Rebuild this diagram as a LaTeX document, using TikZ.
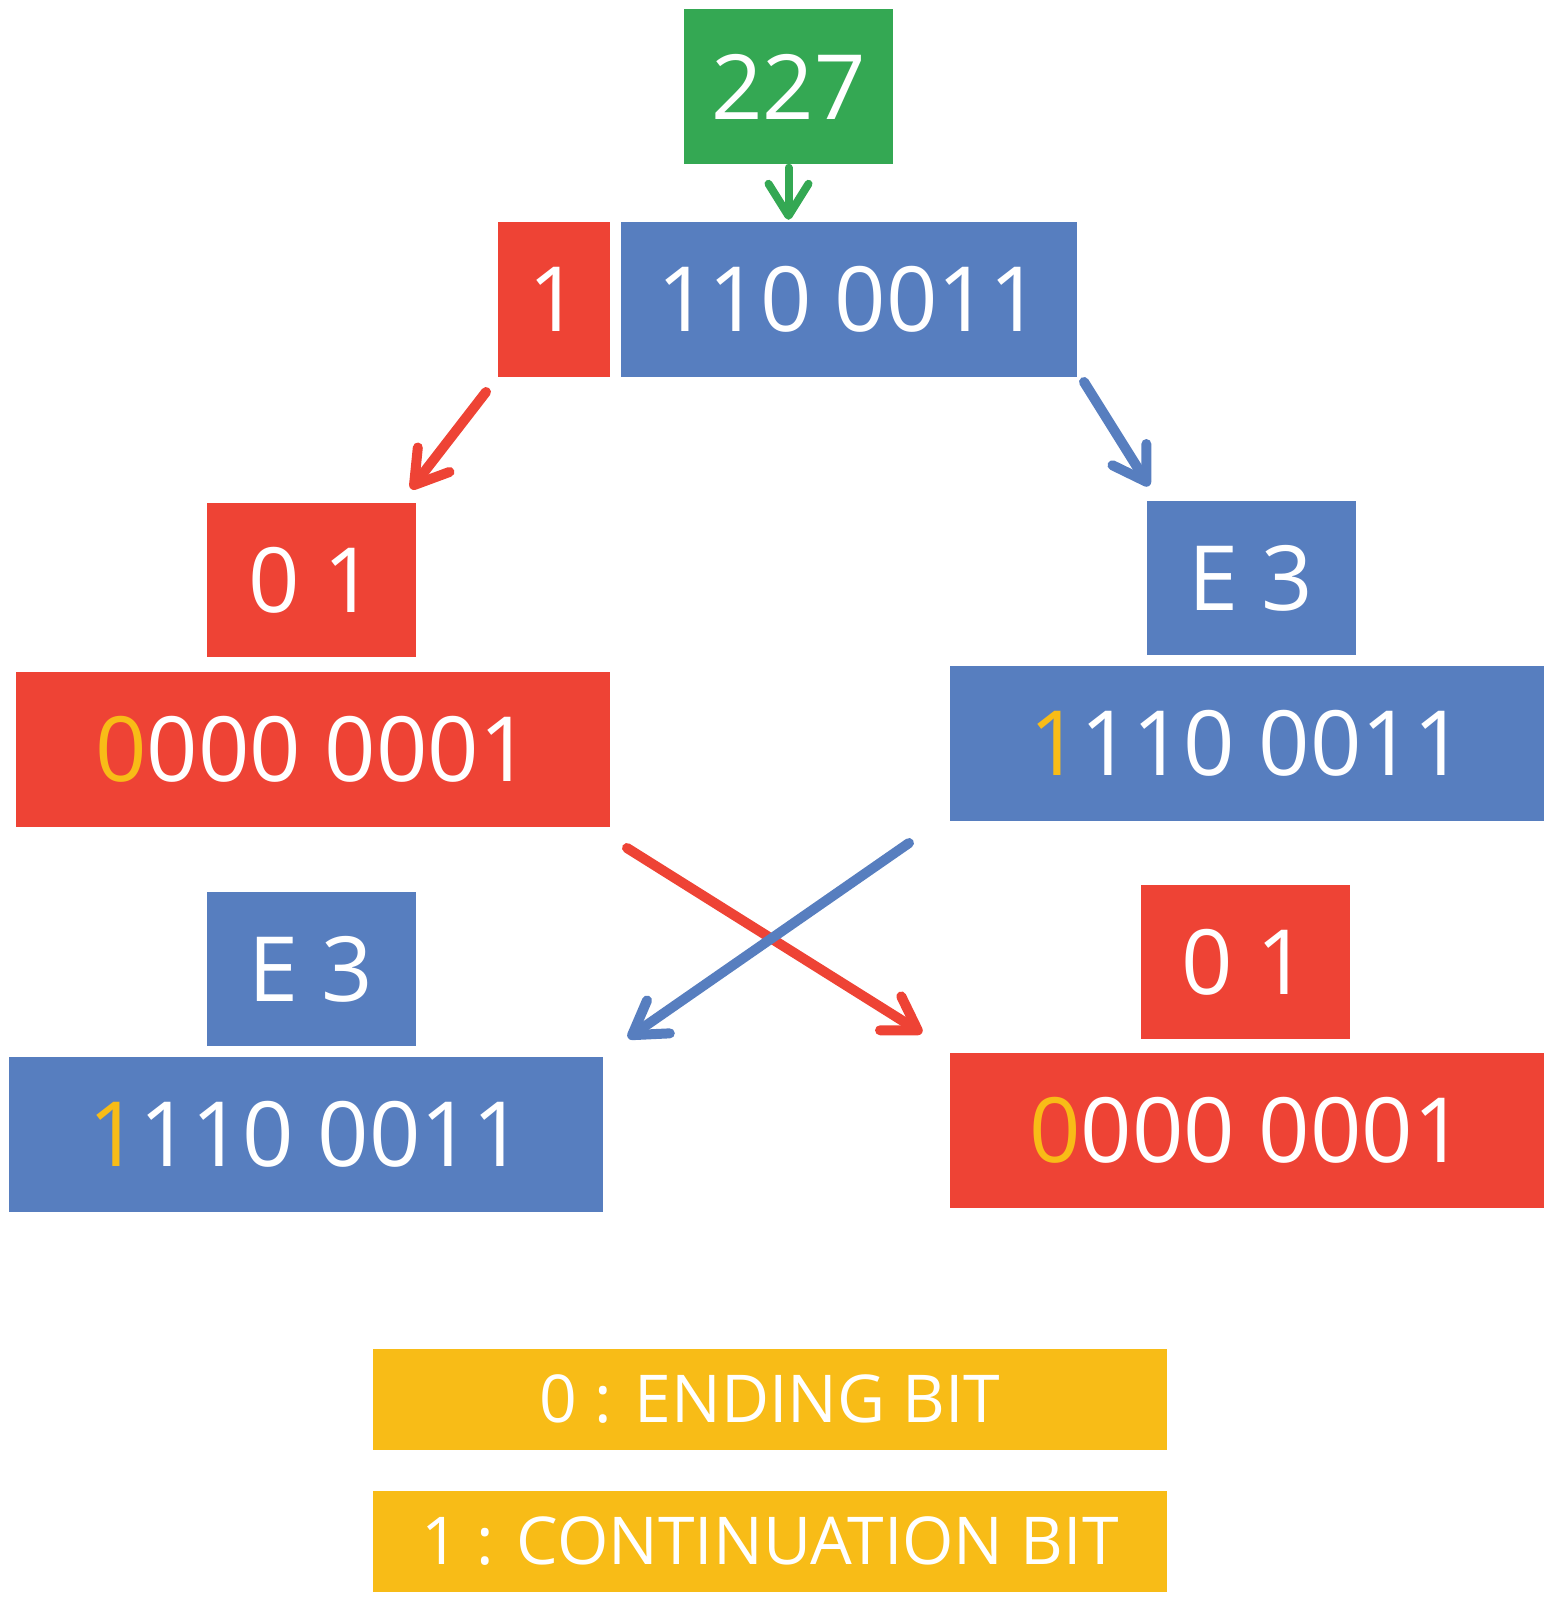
\documentclass[tikz,border=0pt]{standalone}
\usepackage{fontspec}
\setmainfont{Open Sans}
\usetikzlibrary{arrows.meta}
\definecolor{varGreen}{RGB}{52,168,83}
\definecolor{varRed}{RGB}{238,67,53}
\definecolor{varBlue}{RGB}{87,126,191}
\definecolor{varYellow}{RGB}{248,188,23}

\begin{document}
\begin{tikzpicture}[x=1pt,y=-1pt,
            bit-node/.style={rectangle,inner sep=0pt,text=white,font=\fontsize{90}{90}\selectfont},
            short-node/.style={bit-node,minimum width=209pt,minimum height=154pt},
            wide-node/.style={bit-node,minimum width=594pt,minimum height=155pt},
            key-node/.style={rectangle,inner sep=0pt,text=white,fill=varYellow,minimum width=794pt,minimum height=101pt,font=\fontsize{66}{66}\selectfont},
            link/.style={line width=10pt,line cap=round,-{Straight Barb[length=32pt,width=40pt,round]}},
        ]
            \useasboundingbox (0,0) rectangle (1554,1603);

            \node[short-node,fill=varGreen] (num) at (788.5, 86.5) {227};
            \node[bit-node,fill=varRed,minimum width=112pt,minimum height=155pt] (msb) at (554, 299.5) {1};
            \node[bit-node,fill=varBlue,minimum width=456pt,minimum height=155pt] (low) at (849, 299.5) {110 0011};

            \node[short-node,fill=varRed] (hi) at (311.5, 580) {0\ 1};
            \node[wide-node,fill=varRed] (hibits) at (313, 749) {{\color{varYellow}0}000 0001};
            \node[short-node,fill=varBlue] (lo) at (1251, 578) {E 3};
            \node[wide-node,fill=varBlue] (lobits) at (1247, 743.5) {{\color{varYellow}1}110 0011};

            \node[short-node,fill=varBlue] (first) at (311, 969) {E 3};
            \node[wide-node,fill=varBlue] (firstbits) at (306, 1134) {{\color{varYellow}1}110 0011};
            \node[short-node,fill=varRed] (second) at (1245, 962) {0\ 1};
            \node[wide-node,fill=varRed] (secondbits) at (1247, 1130.5) {{\color{varYellow}0}000 0001};

            \node[key-node] (endkey) at (770, 1399) {0 : ENDING BIT};
            \node[key-node] (contkey) at (770, 1541.5) {1 : CONTINUATION BIT};

            \coordinate (hi-from) at (486, 392);
            \coordinate (hi-to) at (411, 489);
            \coordinate (lo-from) at (1084, 382);
            \coordinate (lo-to) at (1149, 486);
            \coordinate (swap-a) at (627, 848);
            \coordinate (swap-b) at (922, 1033);
            \coordinate (swap-c) at (909, 843);
            \coordinate (swap-d) at (628, 1038);

            \draw[link,varGreen,line width=8pt,shorten <=4pt,shorten >=2pt] (num.south) -- (num.south |- low.north);
            \draw[link,varRed] (hi-from) -- (hi-to);
            \draw[link,varBlue] (lo-from) -- (lo-to);
            \draw[link,varRed] (swap-a) -- (swap-b);
            \draw[link,varBlue] (swap-c) -- (swap-d);
        \end{tikzpicture}
\end{document}
